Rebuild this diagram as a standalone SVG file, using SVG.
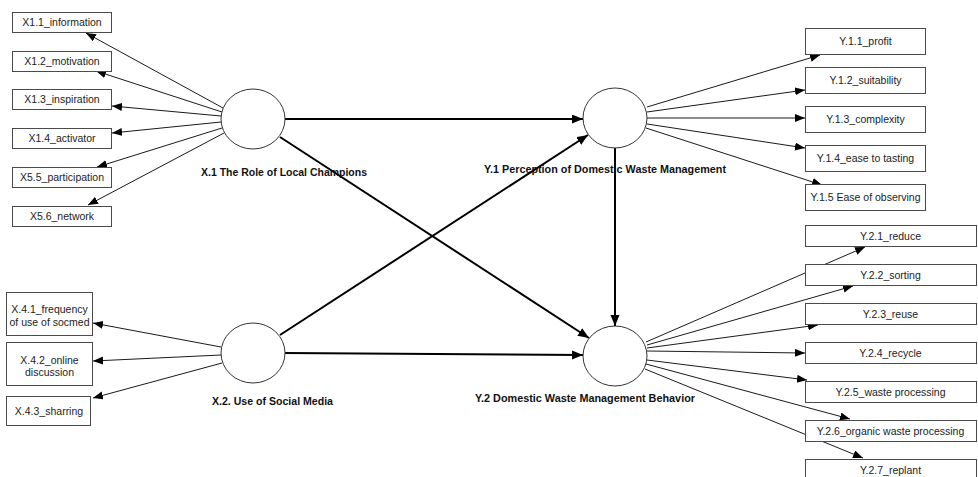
<svg xmlns="http://www.w3.org/2000/svg" width="978" height="477" viewBox="0 0 978 477">
<style>
.bg{fill:#fff}
.box{fill:#fff;stroke:#4a4a4a;stroke-width:1}
.lat{fill:#fff;stroke:#333;stroke-width:1}
.t{font-family:"Liberation Sans",Arial,sans-serif;font-size:10.5px;fill:#222;text-anchor:middle}
.lb{font-family:"Liberation Sans",Arial,sans-serif;font-size:11px;font-weight:bold;fill:#111}
.thin{stroke:#1a1a1a;stroke-width:1;fill:none;marker-end:url(#ah)}
.thick{stroke:#000;stroke-width:2;fill:none;marker-end:url(#ahb)}
</style>
<defs>
<marker id="ah" markerUnits="userSpaceOnUse" markerWidth="11" markerHeight="9" refX="10" refY="4" orient="auto">
<path d="M0,0 L10,4 L0,8 z" fill="#000"/>
</marker>
<marker id="ahb" markerUnits="userSpaceOnUse" markerWidth="12" markerHeight="10" refX="11" refY="4.5" orient="auto">
<path d="M0,0 L11,4.5 L0,9 z" fill="#000"/>
</marker>
</defs>
<rect class="bg" x="0" y="0" width="978" height="477"/>
<g id="connectors">
<path class="thin" d="M223,108 L86,33"/>
<path class="thin" d="M222,112 L96,71"/>
<path class="thin" d="M221,116 L112,106"/>
<path class="thin" d="M221,122 L112,133"/>
<path class="thin" d="M222,128 L97,167"/>
<path class="thin" d="M224,133 L88,205"/>
<path class="thin" d="M221,347 L93,323"/>
<path class="thin" d="M221,355 L93,361"/>
<path class="thin" d="M222,363 L93,398"/>
<path class="thin" d="M647,107 L820,55"/>
<path class="thin" d="M647,112 L805,90"/>
<path class="thin" d="M647,118 L805,118"/>
<path class="thin" d="M647,124 L805,148"/>
<path class="thin" d="M646,128 L822,185"/>
<path class="thin" d="M646,342 L865,247"/>
<path class="thin" d="M647,345 L853,286"/>
<path class="thin" d="M647,348 L818,325"/>
<path class="thin" d="M647,351 L805,353"/>
<path class="thin" d="M647,360 L807,380"/>
<path class="thin" d="M646,364 L850,419"/>
<path class="thin" d="M645,369 L863,458"/>
<path class="thick" d="M285,119 L583,119"/>
<path class="thick" d="M280,137 L589,338"/>
<path class="thick" d="M280,335 L588,135"/>
<path class="thick" d="M285,353 L583,355"/>
<path class="thick" d="M615,148 L615,326"/>
</g>
<g id="X1">
<ellipse class="lat" cx="253" cy="119" rx="32" ry="30"/>
<text class="lb" x="201" y="176" textLength="166" lengthAdjust="spacingAndGlyphs">X.1 The Role of Local Champions</text>
</g>
<g id="X2">
<ellipse class="lat" cx="253" cy="353" rx="32" ry="30"/>
<text class="lb" x="212" y="405" textLength="121" lengthAdjust="spacingAndGlyphs">X.2. Use of Social Media</text>
</g>
<g id="Y1">
<ellipse class="lat" cx="615" cy="118" rx="32" ry="30"/>
<text class="lb" x="484" y="172.5" textLength="242" lengthAdjust="spacingAndGlyphs">Y.1 Perception of Domestic Waste Management</text>
</g>
<g id="Y2">
<ellipse class="lat" cx="615" cy="356" rx="32" ry="30"/>
<text class="lb" x="475" y="401.5" textLength="220" lengthAdjust="spacingAndGlyphs">Y.2 Domestic Waste Management Behavior</text>
</g>
<g id="x11"><rect class="box" x="12.5" y="12.5" width="99" height="20"/><text class="t" x="62" y="26">X1.1_information</text></g>
<g id="x12"><rect class="box" x="12.5" y="51.5" width="99" height="20"/><text class="t" x="62" y="65">X1.2_motivation</text></g>
<g id="x13"><rect class="box" x="12.5" y="89.5" width="99" height="20"/><text class="t" x="62" y="103">X1.3_inspiration</text></g>
<g id="x14"><rect class="box" x="12.5" y="128.5" width="99" height="20"/><text class="t" x="62" y="142">X1.4_activator</text></g>
<g id="x55"><rect class="box" x="12.5" y="167.5" width="99" height="20"/><text class="t" x="62" y="181">X5.5_participation</text></g>
<g id="x56"><rect class="box" x="12.5" y="206.5" width="99" height="20"/><text class="t" x="62" y="220">X5.6_network</text></g>
<g id="x41"><rect class="box" x="6.5" y="292.5" width="86" height="43"/><text class="t" x="49.5" y="312.5">X.4.1_frequency</text><text class="t" x="49.5" y="326">of use of socmed</text></g>
<g id="x42"><rect class="box" x="6.5" y="342.5" width="86" height="43"/><text class="t" x="49.5" y="363.5">X.4.2_online</text><text class="t" x="49.5" y="375.5">discussion</text></g>
<g id="x43"><rect class="box" x="6.5" y="396.5" width="84" height="29"/><text class="t" x="49" y="415">X.4.3_sharring</text></g>
<g id="y11"><rect class="box" x="805.5" y="28.5" width="120" height="26"/><text class="t" x="865.5" y="45">Y.1.1_profit</text></g>
<g id="y12"><rect class="box" x="805.5" y="67.5" width="120" height="26"/><text class="t" x="865.5" y="84">Y.1.2_suitability</text></g>
<g id="y13"><rect class="box" x="805.5" y="106.5" width="120" height="26"/><text class="t" x="865.5" y="123">Y.1.3_complexity</text></g>
<g id="y14"><rect class="box" x="805.5" y="145.5" width="120" height="26"/><text class="t" x="865.5" y="162">Y.1.4_ease to tasting</text></g>
<g id="y15"><rect class="box" x="805.5" y="184.5" width="120" height="26"/><text class="t" x="865.5" y="201">Y.1.5 Ease of observing</text></g>
<g id="y21"><rect class="box" x="805.5" y="225.5" width="171" height="21"/><text class="t" x="890.5" y="239.5">Y.2.1_reduce</text></g>
<g id="y22"><rect class="box" x="805.5" y="264.5" width="171" height="21"/><text class="t" x="890.5" y="278.5">Y.2.2_sorting</text></g>
<g id="y23"><rect class="box" x="805.5" y="303.5" width="171" height="21"/><text class="t" x="890.5" y="317.5">Y.2.3_reuse</text></g>
<g id="y24"><rect class="box" x="805.5" y="342.5" width="171" height="21"/><text class="t" x="890.5" y="356.5">Y.2.4_recycle</text></g>
<g id="y25"><rect class="box" x="805.5" y="381.5" width="171" height="21"/><text class="t" x="890.5" y="395.5">Y.2.5_waste processing</text></g>
<g id="y26"><rect class="box" x="805.5" y="420.5" width="171" height="21"/><text class="t" x="890.5" y="434.5">Y.2.6_organic waste processing</text></g>
<g id="y27"><rect class="box" x="805.5" y="459.5" width="171" height="21"/><text class="t" x="890.5" y="474">Y.2.7_replant</text></g>
</svg>
